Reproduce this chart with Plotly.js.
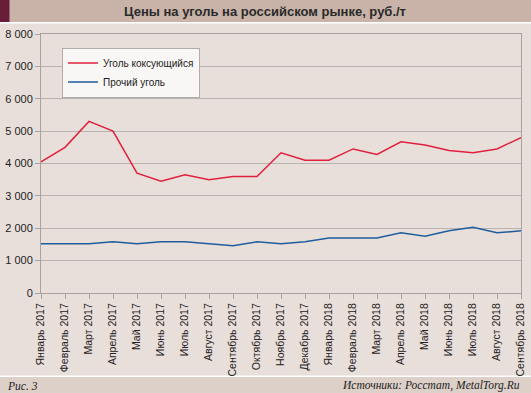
<!DOCTYPE html>
<html>
<head>
<meta charset="utf-8">
<script src="https://cdn.plot.ly/plotly-3.0.1.min.js"></script>
<style>html,body{margin:0;padding:0;background:#fff;}#chart{width:531px;height:393px;}</style>
</head>
<body>
<div id="chart"></div>
<script>
const months = ["Январь 2017","Февраль 2017","Март 2017","Апрель 2017","Май 2017","Июнь 2017","Июль 2017","Август 2017","Сентябрь 2017","Октябрь 2017","Ноябрь 2017","Декабрь 2017","Январь 2018","Февраль 2018","Март 2018","Апрель 2018","Май 2018","Июнь 2018","Июль 2018","Август 2018","Сентябрь 2018"];
const cokingCoal = [4050,4500,5300,5000,3700,3450,3650,3500,3600,3600,4330,4100,4100,4450,4280,4670,4570,4400,4330,4450,4800];
const otherCoal = [1520,1520,1520,1580,1520,1580,1580,1520,1460,1580,1520,1580,1700,1700,1700,1860,1750,1920,2030,1860,1920];
const yTickVals = [0,1000,2000,3000,4000,5000,6000,7000,8000];
const yTickText = ["0","1 000","2 000","3 000","4 000","5 000","6 000","7 000","8 000"];
const seriesNames = ["Уголь коксующийся","Прочий уголь"];

const W = 531, H = 393, L = 41, R = 10, T = 34, B = 100;
const pw = W - L - R, ph = H - T - B;
const px = x => (x - L) / pw;
const py = y => (H - B - y) / ph;

const traces = [
  {x: months, y: cokingCoal, name: seriesNames[0], type: 'scatter', mode: 'lines',
   line: {color: '#e0203c', width: 1.5}},
  {x: months, y: otherCoal, name: seriesNames[1], type: 'scatter', mode: 'lines',
   line: {color: '#1f5d9e', width: 1.5}}
];

const layout = {
  width: W, height: H,
  margin: {l: L, r: R, t: T, b: B, pad: 0},
  paper_bgcolor: '#ffffff',
  plot_bgcolor: '#f3efeb',
  font: {family: 'Liberation Sans, Arial, sans-serif', size: 11, color: '#222'},
  title: {text: 'Цены на уголь на российском рынке, руб./т', x: 265/W, xanchor: 'center',
          y: 1 - 11.5/H, yanchor: 'middle', yref: 'container', xref: 'container',
          font: {family: 'Liberation Sans, Arial, sans-serif', size: 13, color: '#2a2a2a', weight: 'bold'}},
  xaxis: {type: 'category', range: [0, months.length - 1], tickangle: -90,
          ticks: 'outside', ticklen: 5, tickcolor: '#a8a39f', showline: true, linecolor: '#a8a39f',
          linewidth: 1, mirror: true, showgrid: false, tickfont: {size: 10.5, color: '#222'}, automargin: false},
  yaxis: {range: [0, 8000], tickvals: yTickVals, ticktext: yTickText, ticks: 'outside', ticklen: 5,
          tickcolor: '#a8a39f', showline: true, linecolor: '#a8a39f', linewidth: 1, mirror: true,
          gridcolor: '#b8b3ae', gridwidth: 1, zeroline: false, tickfont: {size: 11, color: '#222'}, automargin: false},
  legend: {x: px(62), y: py(47.5), xanchor: 'left', yanchor: 'top', bgcolor: '#f9f7f5',
           bordercolor: '#b0aca8', borderwidth: 1, font: {size: 10, color: '#222'},
           itemwidth: 30, tracegroupgap: 0},
  showlegend: true,
  shapes: [
    {type: 'rect', xref: 'paper', yref: 'paper', x0: px(0), x1: px(W), y0: py(375.5), y1: py(23.5),
     fillcolor: '#e8dfda', line: {width: 0}, layer: 'below'},
    {type: 'rect', xref: 'paper', yref: 'paper', x0: px(0), x1: px(W), y0: py(22), y1: py(0),
     fillcolor: '#c9b3a8', line: {width: 0}, layer: 'below'},
    {type: 'rect', xref: 'paper', yref: 'paper', x0: px(0), x1: px(9.5), y0: py(22), y1: py(0),
     fillcolor: '#6a1d38', line: {width: 0}, layer: 'below'},
    {type: 'rect', xref: 'paper', yref: 'paper', x0: px(0), x1: px(W), y0: py(H), y1: py(377),
     fillcolor: '#ddd0c8', line: {width: 0}, layer: 'below'}
  ],
  annotations: [
    {text: 'Рис. 3', xref: 'paper', yref: 'paper', x: px(5), y: py(385.5), xanchor: 'left', yanchor: 'middle',
     showarrow: false, font: {family: 'Liberation Serif, Times New Roman, serif', size: 11.5, color: '#222', style: 'italic'}},
    {text: 'Источники: Росстат, MetalTorg.Ru', xref: 'paper', yref: 'paper', x: px(522), y: py(385.5),
     xanchor: 'right', yanchor: 'middle', showarrow: false,
     font: {family: 'Liberation Serif, Times New Roman, serif', size: 11.5, color: '#222', style: 'italic'}}
  ]
};

Plotly.newPlot('chart', traces, layout, {displayModeBar: false, staticPlot: true});
</script>
</body>
</html>
